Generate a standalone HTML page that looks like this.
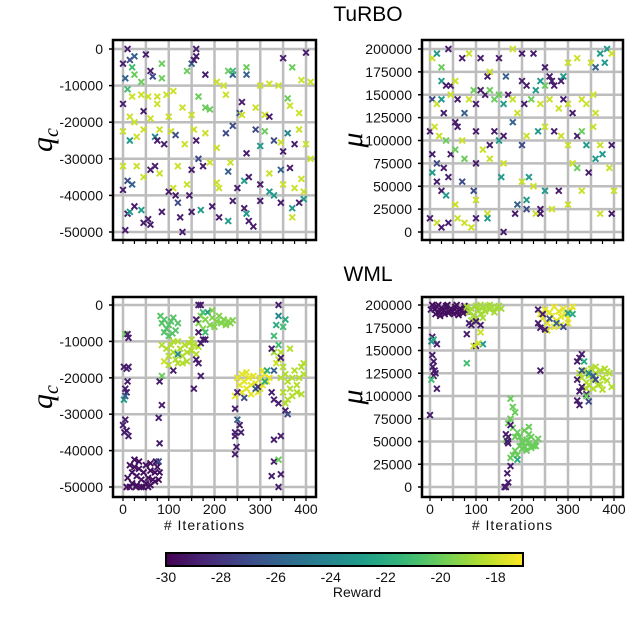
<!DOCTYPE html>
<html><head><meta charset="utf-8">
<style>
html,body{margin:0;padding:0;background:#fff;}
svg{display:block;font-family:"Liberation Sans",sans-serif;}
</style></head>
<body>
<svg id="chart" width="640" height="625" viewBox="0 0 640 625" xmlns="http://www.w3.org/2000/svg">
<text x="368" y="21" font-size="21" text-anchor="middle">TuRBO</text>
<text x="368" y="281" font-size="21" text-anchor="middle">WML</text>
</svg>
<script>
const turboQPoints=[[0,-4000,-29],[10,0,-29],[15,-3000,-27],[25,-2000,-26],[5,-8000,-26],[20,-5000,-21],[25,-7000,-20],[40,-9000,-20],[50,-1500,-29],[60,-6000,-29],[65,-7500,-27],[85,-4000,-20],[85,-8000,-20],[10,-11000,-21],[20,-13000,-18],[40,-12500,-18],[55,-13000,-18],[75,-15000,-18],[95,-12500,-18],[110,-11500,-18],[140,-6000,-20],[150,-4000,-26],[155,-3000,-29],[160,0,-29],[160,-2000,-29],[180,-7000,-29],[205,-9000,-18],[220,-10000,-18],[230,-6000,-20],[240,-7000,-26],[240,-6000,-21],[270,-7000,-26],[270,-5000,-20],[300,-10000,-18],[320,-9500,-18],[340,-10000,-18],[350,-2500,-29],[360,-13500,-20],[370,-5000,-20],[390,-8500,-18],[400,-1000,-29],[410,-9000,-18],
[0,-15000,-29],[15,-18500,-18],[25,-20000,-18],[45,-17000,-29],[60,-19000,-18],[75,-13000,-18],[100,-18500,-18],[130,-16000,-18],[150,-18000,-18],[165,-13000,-20],[180,-16000,-20],[190,-16500,-20],[225,-12500,-18],[255,-17500,-27],[260,-14500,-29],[260,-18000,-18],[290,-16000,-18],[310,-18000,-18],[320,-18500,-29],[365,-15500,-18],[385,-17500,-18],
[0,-22500,-18],[15,-25000,-23],[30,-24000,-18],[45,-22000,-18],[70,-24000,-24],[75,-25000,-29],[80,-22000,-18],[90,-26000,-29],[105,-22500,-18],[115,-23500,-27],[135,-26000,-18],[155,-22000,-18],[160,-25000,-29],[180,-23000,-18],[205,-27000,-18],[225,-23000,-27],[240,-21000,-27],[270,-28500,-29],[290,-22000,-27],[300,-26500,-23],[310,-22500,-20],[330,-25000,-27],[345,-25500,-18],[350,-28000,-29],[360,-23000,-24],[375,-26000,-29],[385,-22000,-18],[400,-26000,-18],[410,-30000,-18],
[0,-32000,-18],[10,-36000,-27],[20,-37000,-26],[30,-32000,-18],[45,-35000,-18],[60,-33000,-29],[70,-32000,-29],[80,-34000,-18],[110,-38000,-18],[120,-32000,-18],[140,-37000,-18],[150,-33000,-29],[165,-30000,-27],[175,-32000,-29],[190,-31000,-18],[205,-36500,-18],[210,-38000,-18],[230,-33500,-26],[235,-31000,-18],[250,-38000,-29],[265,-36000,-23],[275,-35000,-29],[300,-37000,-29],[320,-34000,-18],[330,-40000,-23],[345,-33000,-26],[350,-37000,-18],[365,-32500,-29],[375,-38000,-18],[390,-35500,-18],[395,-39000,-18],
[0,-38500,-29],[10,-45000,-29],[15,-44500,-23],[25,-43000,-29],[40,-44000,-23],[45,-47500,-29],[55,-46500,-29],[60,-48000,-29],[85,-44500,-29],[100,-39000,-29],[115,-40000,-29],[120,-42000,-27],[125,-46000,-29],[130,-50000,-29],[145,-40000,-29],[150,-44500,-29],[170,-44000,-23],[195,-43000,-29],[210,-46000,-29],[230,-47000,-23],[240,-41500,-29],[265,-43500,-29],[270,-45000,-23],[275,-47000,-29],[285,-48500,-29],[300,-41500,-29],[320,-39000,-23],[345,-42000,-29],[370,-43500,-23],[370,-46000,-18],[395,-41000,-23],[385,-42000,-29],[5,-49500,-29]];

const turboMuPoints=[[5,190,-18],[15,195,-23],[25,180,-20],[40,200,-29],[25,165,-23],[35,160,-29],[45,160,-29],[55,165,-18],[70,190,-29],[85,195,-18],[110,190,-29],[125,170,-29],[130,175,-18],[150,190,-29],[165,170,-26],[180,200,-18],[200,195,-29],[225,195,-29],[250,180,-29],[265,165,-29],[270,160,-29],[285,165,-29],[290,170,-23],[300,185,-18],[320,190,-18],[350,185,-18],[360,180,-26],[370,195,-23],[385,200,-23],[395,195,-18],[380,185,-23],[260,170,-29],[250,160,-20],[240,165,-23],[200,165,-29],[210,160,-29],[230,155,-23],
[5,145,-27],[15,140,-18],[25,145,-23],[30,130,-29],[45,150,-18],[60,145,-29],[75,130,-26],[85,145,-18],[95,155,-20],[100,140,-29],[110,155,-29],[120,150,-29],[130,155,-20],[140,145,-20],[150,150,-20],[160,140,-23],[170,150,-29],[180,145,-18],[190,130,-18],[205,140,-29],[220,145,-20],[240,140,-18],[260,145,-18],[280,135,-18],[300,140,-18],[310,130,-29],[330,145,-18],[340,140,-18],[355,150,-18],[360,130,-18],[290,145,-29],
[0,110,-29],[10,115,-18],[20,105,-18],[35,100,-20],[55,120,-29],[60,115,-29],[70,100,-18],[100,110,-29],[130,95,-29],[140,110,-29],[150,100,-23],[160,105,-29],[180,120,-26],[200,95,-27],[210,105,-18],[235,110,-23],[250,115,-18],[270,110,-29],[285,105,-18],[300,95,-18],[320,105,-29],[330,110,-20],[340,95,-23],[355,115,-18],[370,95,-18],[395,95,-29],
[5,85,-29],[15,75,-27],[30,70,-29],[45,85,-29],[55,90,-20],[75,80,-20],[100,75,-29],[115,90,-18],[130,80,-18],[160,75,-18],[200,55,-18],[215,60,-23],[225,50,-18],[250,45,-23],[280,45,-29],[310,75,-18],[320,70,-20],[345,65,-29],[360,80,-23],[375,85,-23],[390,70,-18],[400,45,-18],
[5,65,-23],[15,55,-29],[25,45,-29],[35,40,-23],[40,60,-29],[55,30,-18],[70,55,-27],[95,45,-27],[100,35,-18],[125,20,-18],[155,60,-23],[190,30,-26],[210,35,-23],[230,20,-18],[240,25,-29],[265,25,-18],[300,30,-18],[330,45,-18],[370,20,-18],[395,20,-29],
[0,15,-29],[15,10,-18],[25,5,-29],[40,10,-29],[60,15,-18],[75,10,-18],[90,5,-18],[100,15,-29],[125,15,-23],[160,0,-29],[185,20,-29],[210,25,-27],[240,20,-29]];

const wmlQPoints=[[15,-44000,-29.5],[20,-46000,-29.5],[25,-44500,-29.5],[30,-47000,-29.5],[35,-45000,-29.5],[40,-48000,-29.5],[45,-46000,-29.5],[50,-44000,-29.5],[55,-47500,-29.5],[60,-45500,-29.5],[65,-48000,-29.5],[70,-46000,-29.5],[75,-44500,-29.5],[80,-46000,-29.5],[20,-49000,-29.5],[30,-49500,-29.5],[40,-50000,-29.5],[50,-49000,-29.5],[60,-49500,-29.5],[70,-48500,-29.5],[25,-42500,-29.5],[35,-43000,-29.5],[60,-43500,-29.5],[72,-43000,-29.5],[78,-48000,-29.5],[10,-47500,-29.5],[45,-50000,-29.5],[15,-50000,-29.5],[28,-50000,-29.5],[55,-50000,-29.5],[8,-50000,-29.5],[78,-43000,-27],
[82,-3000,-20.5],[85,-5000,-20.5],[90,-4000,-20.5],[95,-6500,-20.5],[100,-5500,-20.5],[105,-4500,-20.5],[110,-3500,-20.5],[115,-7000,-20.5],[90,-7500,-20.5],[100,-8500,-20.5],[120,-5000,-20.5],[108,-7800,-20.5],
[95,-12000,-18.5],[100,-14000,-18.5],[105,-11000,-18.5],[110,-13000,-18.5],[115,-15000,-18.5],[120,-10000,-18.5],[125,-12000,-18.5],[130,-14000,-18.5],[135,-11000,-18.5],[140,-13000,-18.5],[145,-10500,-18.5],[150,-12500,-18.5],[155,-11000,-18.5],[160,-13500,-18.5],[130,-16000,-18.5],[140,-15500,-18.5],[110,-10000,-18.5],[90,-15500,-18],[100,-16500,-18.5],[120,-16000,-18.5],[150,-9500,-18.5],[165,-11500,-18.5],[85,-11000,-18.5],[120,-13500,-24],
[165,-5000,-19.5],[170,-3000,-19.5],[175,-6500,-19.5],[180,-4000,-19.5],[185,-2000,-23],[190,-5500,-19.5],[195,-3500,-19.5],[200,-6000,-19.5],[205,-4500,-19.5],[210,-3000,-19.5],[215,-5000,-19.5],[220,-4000,-19.5],[225,-5500,-19.5],[230,-4500,-19.5],[235,-5000,-19.5],[240,-4200,-19.5],[175,-2000,-21],[195,-1500,-19.5],[180,-7500,-21],
[165,0,-29],[170,0,-29],[160,-4000,-29],[165,-7500,-29],[170,-10500,-29],[175,-9500,-29],[160,-15000,-29],[165,-16000,-29],[155,-23000,-29],[170,-19500,-29],[180,-9500,-29],
[5,-8000,-20],[10,-8000,-29],[12,-9000,-29],[2,-17000,-29],[8,-17500,-29],[12,-17000,-29],[10,-21000,-29],[5,-23000,-29],[8,-24000,-29],[2,-26000,-23],[5,-25000,-26],[0,-33000,-29],[5,-31500,-29],[8,-34500,-29],[12,-36000,-29],[3,-35000,-29],[80,-21000,-29],[85,-27500,-29],[78,-31000,-29],[80,-38000,-29],[85,-19500,-20],[110,-18000,-29],
[250,-20000,-17.5],[255,-22000,-17.5],[260,-19000,-17.5],[265,-21000,-17.5],[270,-23000,-17.5],[275,-20000,-17.5],[280,-22000,-17.5],[285,-19500,-17.5],[290,-21500,-17.5],[295,-24000,-17.5],[300,-20000,-17.5],[305,-22000,-17.5],[310,-19000,-17.5],[315,-21000,-17.5],[320,-20000,-17.5],[260,-24000,-17.5],[280,-24500,-17.5],[300,-23000,-17.5],[270,-18500,-17.5],[245,-25000,-17.5],[305,-18000,-17.5],
[265,-25500,-27],[290,-23000,-26],[295,-22500,-28],[315,-18000,-22],[330,-18000,-26],[310,-21000,-22],
[340,-15000,-18.5],[345,-13000,-18.5],[350,-17000,-18.5],[355,-19000,-18.5],[360,-21000,-18.5],[365,-23000,-18.5],[370,-20000,-18.5],[375,-18000,-18.5],[380,-22000,-18.5],[385,-20000,-18.5],[390,-17000,-18.5],[395,-19000,-18.5],[360,-26000,-18.5],[370,-25000,-18.5],[380,-24000,-18.5],[390,-24500,-18.5],[350,-24000,-18.5],[355,-27000,-18.5],[365,-12000,-18.5],[395,-16000,-18.5],[345,-20000,-18.5],
[330,-8500,-21],[335,-5500,-22],[340,-3000,-24],[350,-6000,-21],[355,-4000,-22],[340,0,-29],[335,-16000,-18],[330,-13000,-19],[325,-12000,-29],[340,-11000,-21],[345,-14500,-29],[325,-24000,-29],[330,-26000,-29],[340,-27000,-29],[355,-29000,-29],[360,-30000,-27],[330,-37000,-29],[345,-36000,-29],[330,-43000,-29],[340,-42500,-20],[325,-47000,-29],[345,-46500,-29],[340,-50000,-29],
[245,-35000,-29],[245,-36000,-29],[245,-41000,-29],[250,-31500,-26],[255,-33000,-29],[258,-35000,-29],[245,-28500,-29],[248,-39000,-29],[250,-24000,-29]];

const wmlMuPoints=[[5,200,-29.5],[10,195,-29.5],[15,198,-29.5],[20,192,-29.5],[25,197,-29.5],[30,194,-29.5],[35,199,-29.5],[40,191,-29.5],[45,196,-29.5],[50,193,-29.5],[55,198,-29.5],[60,192,-29.5],[65,196,-29.5],[70,194,-29.5],[75,199,-29.5],[12,190,-29.5],[22,188,-29.5],[32,190,-29.5],[42,193,-29.5],[52,190,-29.5],[62,189,-29.5],[72,191,-29.5],[18,200,-29.5],[38,200,-29.5],[58,200,-29.5],[80,193,-29.5],
[80,198,-18.8],[85,192,-18.8],[90,196,-18.8],[95,189,-18.8],[100,199,-18.8],[105,194,-18.8],[110,190,-18.8],[115,197,-18.8],[120,193,-18.8],[125,199,-18.8],[130,195,-18.8],[135,198,-18.8],[140,192,-18.8],[145,197,-18.8],[150,199,-18.8],[155,196,-18.8],[100,185,-18.8],[90,183,-18.8],[115,186,-18.8],[110,200,-18.8],[130,200,-18.8],
[85,180,-29],[90,178,-29],[110,178,-29],[100,182,-29],[80,168,-29],[100,155,-29],[95,155,-18],[110,170,-18],[115,157,-23],[105,158,-18],[80,136,-21],[2,195,-29],[5,165,-29],[3,160,-24],[8,162,-22],[15,157,-29],[5,145,-29],[8,138,-29],[6,132,-29],[10,128,-29],[12,125,-29],[8,122,-29],[3,118,-21],[15,108,-29],[0,79,-29],[240,128,-29],
[240,190,-17.5],[245,185,-17.5],[250,195,-17.5],[255,180,-17.5],[260,192,-17.5],[265,188,-17.5],[270,198,-17.5],[275,183,-17.5],[280,193,-17.5],[285,187,-17.5],[290,196,-17.5],[295,190,-17.5],[300,185,-17.5],[305,194,-17.5],[310,198,-17.5],[255,172,-18],[270,176,-17.5],[285,178,-17.5],[300,180,-17.5],
[235,195,-29],[235,180,-29],[240,175,-29],[245,190,-29],[260,185,-27],[275,180,-26],[290,176,-27],[300,191,-23],[310,190,-22],[250,173,-29],
[325,125,-18.5],[330,120,-18.5],[335,128,-18.5],[340,115,-18.5],[345,122,-18.5],[350,130,-18.5],[355,118,-18.5],[360,125,-18.5],[365,112,-18.5],[370,128,-18.5],[375,120,-18.5],[380,130,-18.5],[385,117,-18.5],[390,125,-18.5],[395,110,-18.5],[340,108,-18.5],[355,108,-18.5],[370,113,-18.5],[385,127,-18.5],[360,132,-18.5],[345,112,-18.5],[375,107,-18.5],
[320,138,-29],[325,142,-29],[330,146,-29],[320,118,-29],[330,110,-29],[325,105,-29],[320,95,-29],[325,90,-29],[340,102,-29],[345,94,-27],[335,138,-22],[330,128,-27],[345,125,-24],[355,122,-26],[360,118,-27],[340,100,-20],
[175,97,-20],[180,88,-20],[185,82,-20],[175,75,-20],[170,70,-20],[180,65,-20],[190,60,-20],[195,55,-20],[200,50,-20],[205,45,-20],[210,52,-20],[215,48,-20],[220,55,-20],[225,45,-20],[230,50,-20],[235,53,-20],[200,42,-20],[190,35,-20],[185,40,-20],[195,45,-20],[210,40,-20],[215,58,-20],[205,62,-20],[215,66,-20],[175,32,-20],[180,35,-20],[190,30,-22],[220,43,-20],[230,45,-20],[165,52,-20],[185,55,-20],
[165,58,-29],[170,55,-29],[168,50,-29],[175,68,-29],[170,48,-29],[168,15,-29],[170,5,-29],[165,0,-29],[162,0,-29],[175,23,-29]];

const xTicks=[0,100,200,300,400];
const qTicks=[0,-10000,-20000,-30000,-40000,-50000];
const muTicks=[200000,175000,150000,125000,100000,75000,50000,25000,0];
const cbTicks=[-30,-28,-26,-24,-22,-20,-18];
const cbMin=-30, cbMax=-17;

const NS='http://www.w3.org/2000/svg';
const svg=document.getElementById('chart');
function mk(tag,attrs,parent){const e=document.createElementNS(NS,tag);for(const k in attrs)e.setAttribute(k,attrs[k]);(parent||svg).appendChild(e);return e;}

const vir=[[68,1,84],[72,40,120],[62,73,137],[49,104,142],[38,130,142],[31,158,137],[53,183,121],[110,206,88],[181,222,43],[253,231,37]];
function viridis(t){t=Math.max(0,Math.min(1,t));const p=t*(vir.length-1);const i=Math.min(vir.length-2,Math.floor(p));const f=p-i;const c=vir[i].map((v,k)=>Math.round(v+(vir[i+1][k]-v)*f));return 'rgb('+c.join(',')+')';}
function colorOf(r){return viridis((r-cbMin)/(cbMax-cbMin));}

function panel(o){
  const g=mk('g',{});
  
  
  const xs=v=>o.x0+(v-0)/400*(o.x1-o.x0);
  const ys=v=>o.yTop+(o.yMax-v)/(o.yMax-o.yMin)*(o.yBot-o.yTop);
  for(let v=0;v<=400;v+=50){const l=mk('line',{x1:xs(v),x2:xs(v),y1:o.fy0,y2:o.fy1,stroke:'#bdbdbd','stroke-width':2.5},g);}
  o.yTicks.forEach(v=>{const l=mk('line',{x1:o.fx0,x2:o.fx1,y1:ys(v),y2:ys(v),stroke:'#bdbdbd','stroke-width':2.5},g);});
  o.points.forEach(p=>{
    const cx=xs(p[0]),cy=ys(p[1]*o.scale),c=colorOf(p[2]),s=2.9;
    const m=mk('path',{d:`M${cx-s},${cy-s}L${cx+s},${cy+s}M${cx-s},${cy+s}L${cx+s},${cy-s}`,stroke:c,'stroke-width':1.9,fill:'none'},g);
    
    
  });
  const fr=mk('rect',{x:o.fx0,y:o.fy0,width:o.fx1-o.fx0,height:o.fy1-o.fy0,fill:'none',stroke:'#000','stroke-width':2.5},g);
  
  o.yTicks.forEach(v=>{
    const t=mk('text',{x:o.fx0-10,y:ys(v)+5,'font-size':14,'text-anchor':'end',fill:'#111'},g);
    t.textContent=String(v);
    
    mk('line',{x1:o.fx0-4,x2:o.fx0,y1:ys(v),y2:ys(v),stroke:'#000','stroke-width':1.5},g);
  });
  for(let v=0;v<=400;v+=25){mk('line',{x1:xs(v),x2:xs(v),y1:o.fy1,y2:o.fy1+4,stroke:'#000','stroke-width':1.2},g);}
  if(o.xLabels){
    xTicks.forEach(v=>{const t=mk('text',{x:xs(v),y:o.fy1+17,'font-size':14,'text-anchor':'middle',fill:'#111'},g);t.textContent=v;});
    const xt=mk('text',{x:(o.fx0+o.fx1)/2-10,y:o.fy1+33,'font-size':14,'text-anchor':'middle',fill:'#111','letter-spacing':'1'},g);
    xt.textContent='#    Iterations';
  }
  const yt=mk('text',{x:0,y:0,'font-size':30,'font-style':'italic','font-family':'"Liberation Serif",serif','text-anchor':'middle',transform:`translate(${o.titleX},${(o.fy0+o.fy1)/2}) rotate(-90)`},g);
  
  if(o.isQ){yt.textContent='q';const sub=mk('tspan',{'font-size':20,dy:6},yt);sub.textContent='c';}
  else yt.textContent='μ';
}

panel({name:'turbo-qc-panel',points:turboQPoints,scale:1,x0:123,x1:306,fx0:113,fx1:316,fy0:40,fy1:240,yTop:49,yBot:232,yMax:0,yMin:-50000,yTicks:qTicks,xLabels:false,isQ:true,titleX:52});
panel({name:'turbo-mu-panel',points:turboMuPoints,scale:1000,x0:430,x1:614,fx0:422,fx1:623,fy0:40,fy1:240,yTop:49,yBot:232,yMax:200000,yMin:0,yTicks:muTicks,xLabels:false,isQ:false,titleX:362});
panel({name:'wml-qc-panel',points:wmlQPoints,scale:1,x0:123,x1:306,fx0:113,fx1:316,fy0:297,fy1:497,yTop:305,yBot:487,yMax:0,yMin:-50000,yTicks:qTicks,xLabels:true,isQ:true,titleX:52});
panel({name:'wml-mu-panel',points:wmlMuPoints,scale:1000,x0:430,x1:614,fx0:422,fx1:623,fy0:297,fy1:497,yTop:305,yBot:487,yMax:200000,yMin:0,yTicks:muTicks,xLabels:true,isQ:false,titleX:362});

const defs=mk('defs',{});
const grad=mk('linearGradient',{id:'vg',x1:0,x2:1,y1:0,y2:0},defs);
for(let i=0;i<=20;i++){mk('stop',{offset:(i/20),'stop-color':viridis(i/20)},grad);}
const cbX0=166,cbX1=523;
const cb=mk('rect',{x:cbX0,y:553,width:cbX1-cbX0,height:13,fill:'url(#vg)',stroke:'#000','stroke-width':2});

cbTicks.forEach(v=>{
  const x=cbX0+(v-cbMin)/(cbMax-cbMin)*(cbX1-cbX0);
  const t=mk('text',{x:x,y:582,'font-size':14,'text-anchor':'middle',fill:'#111'});
  t.textContent=String(v);
  
});
const rl=mk('text',{x:357,y:597,'font-size':14,'text-anchor':'middle',fill:'#111'});
rl.textContent='Reward';


</script>
</body></html>
